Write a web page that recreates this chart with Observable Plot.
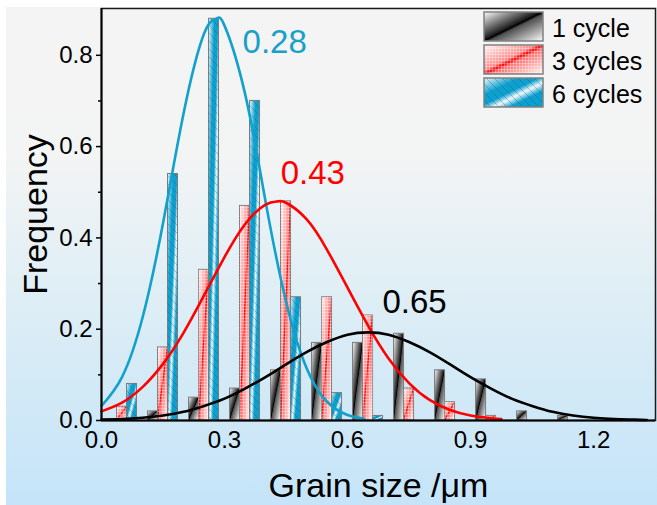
<!DOCTYPE html>
<html><head><meta charset="utf-8">
<script src="https://cdn.jsdelivr.net/npm/d3@7"></script>
<script src="https://cdn.jsdelivr.net/npm/@observablehq/plot@0.6"></script>
<style>
html,body{margin:0;padding:0;background:#fff;}
#chart{width:657px;height:505px;background:linear-gradient(to bottom,#f4f4f4 0px,#f3f4f4 150px,#e4f0f5 250px,#d4eaf6 370px,#c5e4f9 498px) no-repeat;background-position:6px 7px;background-size:651px 498px;}
#chart svg{display:block;}
</style></head><body><div id="chart"></div><script>
// ---- data ----
const binCenters = [0.05, 0.15, 0.25, 0.35, 0.45, 0.55, 0.65, 0.75, 0.85, 0.95, 1.05, 1.15];
const cycle1 = [0, 0.02, 0.05, 0.07, 0.11, 0.17, 0.17, 0.19, 0.11, 0.09, 0.02, 0.01];
const cycle3 = [0.03, 0.16, 0.33, 0.47, 0.48, 0.27, 0.23, 0.07, 0.04, 0.01, 0, 0];
const cycle6 = [0.08, 0.54, 0.88, 0.70, 0.27, 0.06, 0.01, 0, 0, 0, 0, 0];
const seriesNames = ["1 cycle", "3 cycles", "6 cycles"];

// fitted curves
const fit6X = [0, 0.05, 0.10, 0.15, 0.20, 0.25, 0.28, 0.30, 0.35, 0.40, 0.45, 0.50, 0.55, 0.60, 0.64];
const fit6Y = [0.032, 0.095, 0.225, 0.432, 0.672, 0.847, 0.88, 0.865, 0.716, 0.48, 0.261, 0.115, 0.041, 0.012, 0.004];
const fit3X = [0, 0.05, 0.10, 0.15, 0.20, 0.25, 0.30, 0.35, 0.40, 0.43, 0.45, 0.50, 0.55, 0.60, 0.65, 0.70, 0.75, 0.80, 0.85, 0.90, 0.95, 0.975];
const fit3Y = [0.020, 0.039, 0.073, 0.124, 0.192, 0.274, 0.358, 0.430, 0.473, 0.480, 0.477, 0.441, 0.374, 0.291, 0.208, 0.136, 0.082, 0.045, 0.023, 0.011, 0.005, 0.003];
const fit1X = [0, 0.05, 0.10, 0.15, 0.20, 0.25, 0.30, 0.35, 0.40, 0.45, 0.50, 0.55, 0.60, 0.65, 0.70, 0.75, 0.80, 0.85, 0.90, 0.95, 1.00, 1.05, 1.10, 1.15, 1.20, 1.25, 1.30, 1.33];
const fit1Y = [0.002, 0.003, 0.006, 0.011, 0.019, 0.032, 0.048, 0.070, 0.095, 0.123, 0.150, 0.172, 0.188, 0.193, 0.188, 0.172, 0.150, 0.123, 0.095, 0.070, 0.048, 0.032, 0.019, 0.011, 0.006, 0.003, 0.002, 0.001];

const peakLabels = ["0.28", "0.43", "0.65"];
const peakLabelX = [0.344, 0.437, 0.685];
const peakLabelY = [0.806, 0.519, 0.236];

const xTicks = [0, 0.3, 0.6, 0.9, 1.2];
const yTicks = [0, 0.2, 0.4, 0.6, 0.8];
const yMinorTicks = [0.1, 0.3, 0.5, 0.7];

// ---- build tables ----
const bw = 0.0244;
const barsFor = (vals, k) => binCenters.map((c, i) => ({x1: c + (k - 1.5) * bw, x2: c + (k - 0.5) * bw, y: vals[i]})).filter(d => d.y > 0);
const bars1 = barsFor(cycle1, 0), bars3 = barsFor(cycle3, 1), bars6 = barsFor(cycle6, 2);
const pts = (xs, ys) => xs.map((x, i) => ({x, y: ys[i]}));
const labels = peakLabels.map((t, i) => ({t, x: peakLabelX[i], y: peakLabelY[i]}));
const labelColors = ["#18a0c8", "#ff0000", "#000000"];

const blue = "#12a0cc", red = "#ff0000";
const barStyle = {x1: "x1", x2: "x2", y: "y", stroke: "#7c7c7c", strokeWidth: 1};

const svg = Plot.plot({
  width: 657, height: 505,
  marginLeft: 101, marginRight: 2, marginTop: 8, marginBottom: 85,
  x: {domain: [0, 1.351]},
  y: {domain: [0, 0.9025]},
  style: {fontFamily: "'Liberation Sans', Arial, sans-serif", background: "transparent", color: "#000", overflow: "visible"},
  marks: [
    Plot.rectY(bars1, {...barStyle, fill: "url(#gBlack)"}),
    Plot.rectY(bars3, {...barStyle, fill: "url(#gRed)"}),
    Plot.rectY(bars3, {...barStyle, fill: "url(#pGrid)", stroke: "none"}),
    Plot.rectY(bars6, {...barStyle, fill: "url(#gBlue)"}),
    Plot.rectY(bars6, {...barStyle, fill: "url(#pHatch)", stroke: "none"}),
    Plot.line(pts(fit6X, fit6Y), {x: "x", y: "y", stroke: blue, strokeWidth: 2.6, curve: "natural"}),
    Plot.line(pts(fit3X, fit3Y), {x: "x", y: "y", stroke: red, strokeWidth: 2.6, curve: "natural"}),
    Plot.line(pts(fit1X, fit1Y), {x: "x", y: "y", stroke: "#000", strokeWidth: 2.6, curve: "natural"}),
    ...labels.map((d, i) => Plot.text([d], {x: "x", y: "y", text: "t", fill: labelColors[i], fontSize: 33, textAnchor: "start", lineAnchor: "bottom"})),
    Plot.frame({stroke: "#1a1a1a", strokeWidth: 1.5}),
    Plot.ruleY([0], {stroke: "#000", strokeWidth: 2}),
    Plot.ruleX([0], {stroke: "#000", strokeWidth: 2}),
    Plot.axisY({ticks: yTicks, tickFormat: d3.format(".1f"), tickSize: 5, tickPadding: 4, fontSize: 24, label: null, strokeWidth: 1.5}),
    Plot.axisY({ticks: yMinorTicks, tickFormat: () => "", tickSize: 3, label: null, strokeWidth: 1.5}),
    Plot.axisX({ticks: xTicks, tickFormat: d3.format(".1f"), tickSize: 0, tickPadding: 10, fontSize: 24, label: null}),
    Plot.text(["Frequency"], {text: d => d, frameAnchor: "left", rotate: -90, dx: -65, fontSize: 34, textAnchor: "middle", lineAnchor: "middle"}),
    Plot.text(["Grain size /\u03bcm"], {text: d => d, frameAnchor: "bottom", dy: 66, fontSize: 34, textAnchor: "middle", lineAnchor: "middle"})
  ]
});

// ---- gradients & patterns ----
const s = d3.select(svg);
const defs = s.insert("defs", ":first-child");
function grad(id, stops) {
  const g = defs.append("linearGradient").attr("id", id).attr("x1", 0).attr("y1", 0).attr("x2", 1).attr("y2", 1);
  stops.forEach(([o, c]) => g.append("stop").attr("offset", o).attr("stop-color", c));
}
grad("gBlack", [[0, "#ffffff"], [0.46, "#222222"], [0.5, "#000000"], [0.54, "#505050"], [1, "#ffffff"]]);
grad("gRed", [[0, "#fff4f4"], [0.44, "#ff8a8a"], [0.5, "#ff0000"], [0.56, "#ff7070"], [1, "#fff6f6"]]);
grad("gBlue", [[0, "#f2fafd"], [0.3, "#0aa0d0"], [0.46, "#0aa0d0"], [0.58, "#f4fbfe"], [0.72, "#0aa0d0"], [1, "#0aa0d0"]]);
const pg = defs.append("pattern").attr("id", "pGrid").attr("patternUnits", "userSpaceOnUse").attr("width", 3).attr("height", 3);
pg.append("path").attr("d", "M0 0.5H3M0.5 0V3").attr("stroke", "rgba(255,255,255,0.55)").attr("stroke-width", 0.6).attr("fill", "none");
const ph = defs.append("pattern").attr("id", "pHatch").attr("patternUnits", "userSpaceOnUse").attr("width", 8).attr("height", 8);
ph.append("path").attr("d", "M0 0L8 8M-2 6L2 10M6 -2L10 2").attr("stroke", "rgba(60,70,80,0.55)").attr("stroke-width", 0.6).attr("fill", "none");

// ---- legend ----
const lg = s.append("g").attr("text-anchor", "start");
const legendFills = [["url(#gBlack)", null], ["url(#gRed)", "url(#pGrid)"], ["url(#gBlue)", "url(#pHatch)"]];
seriesNames.forEach((name, i) => {
  const y0 = 12 + i * 33;
  lg.append("rect").attr("x", 484).attr("y", y0).attr("width", 59).attr("height", 29).attr("fill", legendFills[i][0]);
  if (legendFills[i][1]) lg.append("rect").attr("x", 484).attr("y", y0).attr("width", 59).attr("height", 29).attr("fill", legendFills[i][1]);
  lg.append("rect").attr("x", 484).attr("y", y0).attr("width", 59).attr("height", 29).attr("fill", "none").attr("stroke", "#808080").attr("stroke-width", 1.5);
  lg.append("text").attr("x", 552).attr("y", y0 + 25).attr("font-size", 25).attr("fill", "#000").attr("text-anchor", "start").text(name);
});

document.getElementById("chart").append(svg);
</script></body></html>
